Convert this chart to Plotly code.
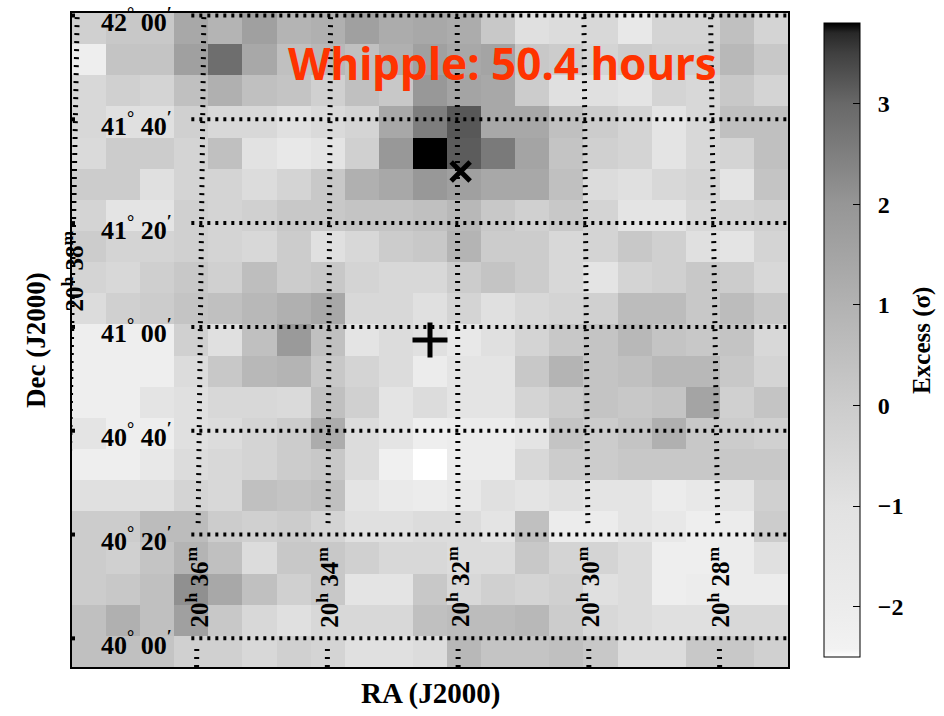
import numpy as np
import plotly.graph_objects as go

# ---------------- data ----------------
# Excess significance (sigma), 21 x 21 cells of 0.1 deg; row 0 = top (north), col 0 = left (east)
excess = [
    [-0.18, 0.15, 0.15, 1.36, 0.92, 1.64, 0.92, 1.07, 1.64, 1.21, 1.36, 1.21, 0.15, -0.91, -0.73, -0.55, -1.6, -0.36, -0.36, 0.46, -0.36],
    [-2.14, 0.3, 0.3, 1.64, 2.87, 1.36, 0.46, 0.77, 0.46, 1.07, 1.64, 1.36, 1.5, 0.15, 0.0, -0.36, 0.0, -0.18, -0.18, 0.77, 0.15],
    [-0.55, -0.18, -0.36, 0.46, 1.07, 0.46, 0.3, -0.18, 0.46, 0.15, 1.93, 1.5, 1.36, 0.0, -0.91, -0.91, -1.2, -0.36, -0.55, 0.15, -0.36],
    [-0.55, -0.91, -0.91, -0.18, -0.55, -0.55, -0.91, -0.64, -0.36, 1.36, 2.52, 3.2, 1.36, 1.36, 0.46, 0.0, -0.36, -1.2, -0.55, 0.46, 0.46],
    [-0.64, 0.0, 0.0, -0.36, 0.46, -1.0, -1.6, -1.2, -0.18, 1.93, 3.8, 3.15, 2.6, 1.5, 0.3, -0.18, -0.36, -1.2, -0.55, -0.36, 0.46],
    [0.0, 0.0, -0.91, -0.36, -0.36, -0.73, -0.36, 0.15, 1.07, 1.36, 1.93, 1.64, 1.36, 1.36, 0.46, -0.73, -0.91, -0.55, -0.36, -1.2, 0.3],
    [-0.36, -1.2, -1.2, -0.18, -0.36, -0.18, 0.15, 0.15, 0.3, 0.3, 0.46, 0.77, 0.15, -0.18, 0.15, -0.36, -1.2, -1.2, -0.55, -0.36, -0.18],
    [0.0, -0.36, -0.36, -0.18, -0.36, -0.55, 0.0, -0.91, -0.55, 0.0, 0.15, 0.92, 0.0, 0.0, -0.55, -0.36, 0.15, -0.18, -0.91, -1.2, -0.36],
    [-0.36, -0.55, -0.14, 0.15, -0.18, 0.55, 0.0, 0.15, -0.36, -0.55, -0.55, 0.0, 0.3, 0.0, -0.55, -1.2, -0.36, -0.18, 0.15, 0.0, -0.55],
    [-0.73, -0.18, 0.0, 0.3, 0.46, 0.77, 1.07, 1.36, -0.55, -0.55, -0.91, -0.36, -0.91, -0.55, -0.36, -0.18, 0.62, 0.62, 0.15, 0.62, 0.15],
    [-2.14, -2.14, -2.14, -0.18, -0.91, 0.46, 1.85, 0.46, -1.2, -0.73, -0.91, -1.6, -0.91, -0.36, 0.15, 0.3, 0.77, 0.3, 0.15, 0.3, -0.55],
    [-2.14, -2.14, -2.14, -0.73, 0.15, 0.77, 0.92, 0.15, -0.36, -0.73, -2.0, -1.2, -1.2, 0.15, 0.92, 0.3, 0.46, 0.77, 0.77, 0.15, -0.36],
    [-2.14, -2.14, -1.2, -0.91, -0.55, -0.55, -0.64, 0.46, -0.18, -1.2, -0.73, -1.2, -1.2, -0.36, 0.0, 0.3, 0.15, 0.3, 1.5, -0.18, 0.3],
    [-1.2, -2.14, -2.14, -0.91, -0.73, -0.36, 0.0, 1.21, -0.73, -1.2, -2.14, -2.0, -2.0, -1.2, 0.3, 0.0, 0.3, 1.07, 0.15, 0.0, -0.18],
    [-2.14, -2.14, -1.6, -0.73, -0.55, -0.36, 0.0, 0.15, -0.73, -2.28, -2.5, -2.0, -2.0, -0.55, 0.0, 0.0, 0.15, 0.15, 0.15, 0.15, 0.15],
    [-0.91, -0.91, -0.91, -0.36, -0.55, 0.46, 0.3, 0.46, -1.2, -1.8, -2.0, -1.6, -0.91, -1.2, -0.91, -1.2, -1.2, -2.0, -1.6, -1.2, -0.18],
    [0.0, 0.0, 0.62, 0.62, 0.0, -0.18, 0.0, -0.36, -0.91, -0.91, -0.73, -0.73, -1.2, 0.46, -2.0, -2.0, -1.2, -1.6, -2.14, -2.0, 0.0],
    [0.0, -0.18, 0.3, 0.92, 0.46, -0.73, 0.15, 0.15, -0.18, -0.55, -0.55, -0.73, -0.73, 0.15, -0.36, -0.36, -0.73, -2.14, -2.14, -2.0, -0.91],
    [0.0, 0.15, 0.46, 2.13, 1.36, 0.46, -0.18, 0.15, -1.2, -1.2, 0.15, -0.55, -0.18, -0.36, -0.18, -0.91, -0.73, -2.14, -2.0, -2.0, -2.0],
    [0.46, 1.07, 0.46, 1.64, 0.15, -0.55, -0.91, -0.55, -0.55, -0.55, 0.46, 0.62, 0.62, 0.77, 0.0, -0.55, -0.73, -0.91, -0.91, -0.55, -0.55],
    [0.46, 0.46, 0.3, -0.18, -0.18, -0.55, -0.18, -0.36, -0.91, -0.91, -0.73, 0.77, 0.3, 0.3, 0.46, 0.15, -0.73, -0.73, 0.15, 0.15, -0.18],
]

# map centre (Cyg X-3): RA in minutes past 20h, Dec in degrees
map_center_ra_min = 32.43
map_center_dec = 40.958
cell_deg = 0.1

# colour scale: excess value -> grey level
cb_values = [-2.5, -2.42, -2.0, -1.0, 0.0, 1.0, 2.0, 3.0, 3.5, 3.7, 3.8]
cb_grey = [255, 242, 236, 226, 204, 178, 150, 104, 64, 40, 0]
cb_ticks = [-2, -1, 0, 1, 2, 3]
cb_ticktext = ["\u2002\u22122", "\u2002\u22121", "\u20020", "\u20021", "\u20022", "\u20023"]

# coordinate grid
ra_lines_min = [38, 36, 34, 32, 30, 28]
ra_labels = ["20<sup>h</sup> 38<sup>m</sup>", "20<sup>h</sup> 36<sup>m</sup>", "20<sup>h</sup> 34<sup>m</sup>",
             "20<sup>h</sup> 32<sup>m</sup>", "20<sup>h</sup> 30<sup>m</sup>", "20<sup>h</sup> 28<sup>m</sup>"]
ra_label_dec = [41.18, 40.165, 40.165, 40.165, 40.165, 40.165]
ra_gap_dec = (39.98, 40.37)          # region kept free for the RA labels
dec_lines_deg = [40.0, 40 + 20 / 60, 40 + 40 / 60, 41.0, 41 + 20 / 60, 41 + 40 / 60, 42.0]
dec_labels = ["40<sup>\u00b0</sup> 00<sup>\u2032</sup>", "40<sup>\u00b0</sup> 20<sup>\u2032</sup>",
              "40<sup>\u00b0</sup> 40<sup>\u2032</sup>", "41<sup>\u00b0</sup> 00<sup>\u2032</sup>",
              "41<sup>\u00b0</sup> 20<sup>\u2032</sup>", "41<sup>\u00b0</sup> 40<sup>\u2032</sup>",
              "42<sup>\u00b0</sup> 00<sup>\u2032</sup>"]
dec_label_x = 0.862
dec_line_start_x = 0.70

# sources: (RA minutes past 20h, Dec deg)
source_plus = (32.43, 40.958)     # Cyg X-3
source_cross = (31.95, 41.499)    # TeV J2032+4130

# ---------------- helpers ----------------
def ra_offset(ra_min, dec_deg):
    return (ra_min - map_center_ra_min) * 0.25 * np.cos(np.radians(dec_deg))

n = len(excess)
half = n // 2
x_cells = [(half - i) * cell_deg for i in range(n)]
y_cells = [map_center_dec + (half - r) * cell_deg for r in range(n)]
z_asc = excess[::-1]
y_asc = y_cells[::-1]

xr = (half + 0.5) * cell_deg
y_lo = map_center_dec - xr
y_hi = map_center_dec + xr

zmin, zmax = cb_values[0], cb_values[-1]
colorscale = [[(v - zmin) / (zmax - zmin), f"rgb({g},{g},{g})"] for v, g in zip(cb_values, cb_grey)]

SERIF = "Liberation Serif"

fig = go.Figure()
fig.add_trace(go.Heatmap(
    z=z_asc, x=x_cells, y=y_asc, zmin=zmin, zmax=zmax, colorscale=colorscale,
    hoverinfo="skip",
    colorbar=dict(
        x=1.0503, xanchor="left", xpad=0, y=0.5, yanchor="middle", len=1, lenmode="fraction",
        thickness=36, thicknessmode="pixels", outlinecolor="black", outlinewidth=1,
        ticks="inside", ticklen=7, tickcolor="black", tickwidth=1,
        tickvals=cb_ticks, ticktext=cb_ticktext,
        tickfont=dict(family=SERIF, size=24, color="black", weight="bold"),
    ),
))

# Dec grid lines (a short mark at the left edge, then the dotted line right of the labels)
for d in dec_lines_deg:
    fig.add_trace(go.Scatter(x=[xr, xr - 0.012, None, dec_line_start_x, -xr], y=[d, d, None, d, d],
                             mode="lines", line=dict(color="black", width=4, dash="3px,5px"),
                             hoverinfo="skip", showlegend=False, connectgaps=False))

# RA grid lines (projected, broken where the labels sit)
for ra, lab_dec in zip(ra_lines_min, ra_label_dec):
    if lab_dec < 40.5:
        ys = [y_lo, ra_gap_dec[0], None, ra_gap_dec[1], y_hi]
    else:
        ys = [y_lo, y_hi]
    xs = [None if yv is None else ra_offset(ra, yv) for yv in ys]
    fig.add_trace(go.Scatter(x=xs, y=ys, mode="lines",
                             line=dict(color="black", width=5, dash="2px,6px"),
                             hoverinfo="skip", showlegend=False, connectgaps=False))

# source markers
fig.add_trace(go.Scatter(x=[ra_offset(source_plus[0], source_plus[1])], y=[source_plus[1]],
                         mode="markers", marker=dict(symbol="cross-thin", size=25,
                                                     line=dict(color="black", width=5)),
                         hoverinfo="skip", showlegend=False))
fig.add_trace(go.Scatter(x=[ra_offset(source_cross[0], source_cross[1])], y=[source_cross[1]],
                         mode="markers", marker=dict(symbol="x-thin", size=19,
                                                     line=dict(color="black", width=5)),
                         hoverinfo="skip", showlegend=False))

annotations = []
for d, lab in zip(dec_lines_deg, dec_labels):
    annotations.append(dict(x=dec_label_x, y=d, xref="x", yref="y", text=lab, showarrow=False,
                            xanchor="center", yanchor="middle", yshift=-5,
                            font=dict(family=SERIF, size=26, color="black", weight="bold")))
for ra, lab, ld in zip(ra_lines_min, ra_labels, ra_label_dec):
    annotations.append(dict(x=ra_offset(ra, ld), y=ld, xref="x", yref="y", text=lab, showarrow=False,
                            textangle=-90, xanchor="center", yanchor="middle",
                            font=dict(family=SERIF, size=25, color="black", weight="bold")))
annotations.append(dict(x=0.5, y=-0.0398, xref="paper", yref="paper", text="RA (J2000)", showarrow=False,
                        xanchor="center", yanchor="middle",
                        font=dict(family=SERIF, size=29, color="black", weight="bold")))
annotations.append(dict(x=-0.0503, y=0.5, xref="paper", yref="paper", text="Dec (J2000)", showarrow=False,
                        textangle=-90, xanchor="center", yanchor="middle",
                        font=dict(family=SERIF, size=27, color="black", weight="bold")))
annotations.append(dict(x=1.187, y=0.5, xref="paper", yref="paper", text="Excess (\u03c3)", showarrow=False,
                        textangle=-90, xanchor="center", yanchor="middle",
                        font=dict(family=SERIF, size=25, color="black", weight="bold")))
annotations.append(dict(x=0.6006, y=0.9235, xref="paper", yref="paper", text="Whipple: 50.4 hours",
                        showarrow=False, xanchor="center", yanchor="middle",
                        font=dict(family="Noto Sans", size=44, color="#ff3300", weight="bold")))

axis_common = dict(showticklabels=False, showgrid=False, zeroline=False, ticks="",
                   showline=True, linecolor="black", linewidth=1.5, mirror=True)
fig.update_layout(
    width=944, height=716,
    margin=dict(l=72, r=156, t=13, b=49),
    paper_bgcolor="white", plot_bgcolor="white",
    xaxis=dict(range=[xr, -xr], **axis_common),
    yaxis=dict(range=[y_lo, y_hi], **axis_common),
    annotations=annotations,
    showlegend=False,
)

fig.write_html("out.html")
